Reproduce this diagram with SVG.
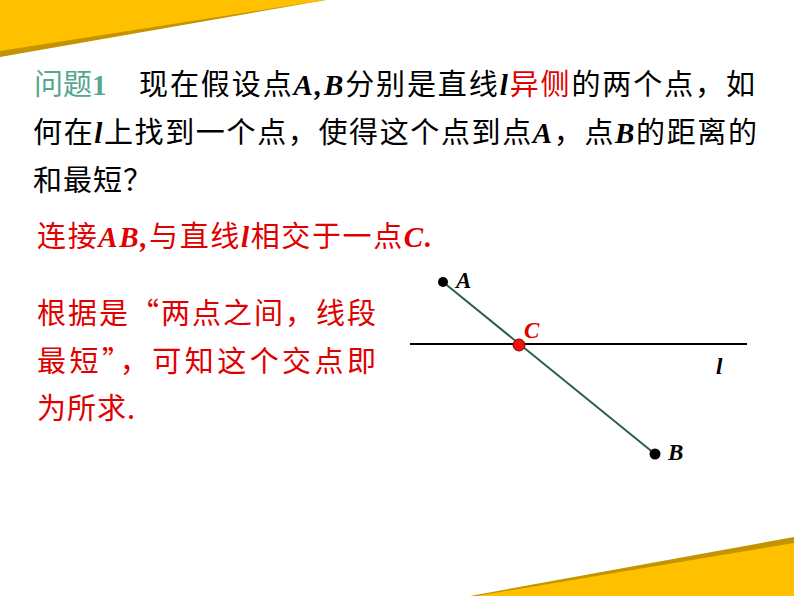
<svg xmlns="http://www.w3.org/2000/svg" width="794" height="596" viewBox="0 0 794 596">
<style>
.cjk{font-family:"Noto Sans CJK SC","Noto Sans",sans-serif;font-size:29px;font-weight:400}
.lat{font-family:"Liberation Serif",serif;font-weight:bold;font-style:italic}
.up{font-family:"Liberation Serif",serif;font-weight:bold;font-style:normal}
.blk{fill:#000}
.red{fill:#e00000}
.teal{fill:#55a68e}
.lbl{font-family:"Liberation Serif",serif;font-weight:bold;font-style:italic;font-size:23px}
</style>
<rect width="794" height="596" fill="#fff"/>
<g id="deco">
<polygon points="0,0 326,0 0,57" fill="#c39400"/>
<polygon points="0,0 326,0 0,51" fill="#ffc000"/>
<polygon points="470,596 794,537 794,596" fill="#c39400"/>
<polygon points="476,596 794,543 794,596" fill="#ffc000"/>
</g>
<g id="question">
<text class="cjk teal" x="34" y="95">问题<tspan class="up">1</tspan></text>
<text class="cjk blk" x="139" y="95" textLength="616" lengthAdjust="spacing">现在假设点<tspan class="lat">A,B</tspan>分别是直线<tspan class="lat">l</tspan><tspan class="red">异侧</tspan>的两个点，如</text>
<text class="cjk blk" x="33" y="143" textLength="724" lengthAdjust="spacing">何在<tspan class="lat">l</tspan>上找到一个点，使得这个点到点<tspan class="lat">A</tspan>，点<tspan class="lat">B</tspan>的距离的</text>
<text class="cjk blk" x="33" y="191" letter-spacing="1">和最短？</text>
</g>
<g id="answer">
<text class="cjk red" x="37" y="247" textLength="395" lengthAdjust="spacing">连接<tspan class="lat">AB,</tspan>与直线<tspan class="lat">l</tspan>相交于一点<tspan class="lat">C.</tspan></text>
<text class="cjk red" x="37" y="324" textLength="339" lengthAdjust="spacing">根据是“两点之间，线段</text>
<text class="cjk red" x="37" y="372" textLength="339" lengthAdjust="spacing">最短”，可知这个交点即</text>
<text class="cjk red" x="37" y="419" letter-spacing="1">为所求.</text>
</g>
<g id="connectors">
<line id="line-l" x1="410" y1="344" x2="747" y2="344" stroke="#000" stroke-width="2.2"/>
<line id="segment-AB" x1="443" y1="282" x2="655" y2="454" stroke="#2e5e4e" stroke-width="2"/>
</g>
<g id="point-A">
<circle cx="443" cy="282" r="5" fill="#000"/>
<text class="lbl blk" x="456" y="288">A</text>
</g>
<g id="point-B">
<circle cx="655" cy="454" r="5.5" fill="#000"/>
<text class="lbl blk" x="668" y="460">B</text>
</g>
<g id="point-C">
<circle cx="519" cy="345" r="6" fill="#ee1111" stroke="#8a0000" stroke-width="1"/>
<text class="lbl red" x="524" y="338">C</text>
</g>
<g id="label-l">
<text class="lbl blk" x="716" y="374" font-size="26">l</text>
</g>
</svg>
